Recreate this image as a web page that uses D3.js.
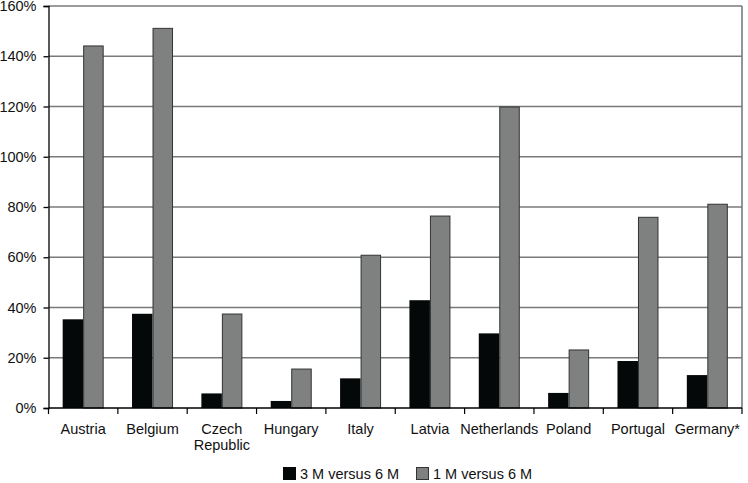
<!DOCTYPE html>
<html>
<head>
<meta charset="utf-8">
<script src="https://cdn.jsdelivr.net/npm/d3@7"></script>
<style>
  body { margin: 0; background: #fff; }
  text { font-family: "Liberation Sans", Arial, sans-serif; fill: #111; }
</style>
</head>
<body>
<svg id="chart" width="748" height="483"></svg>
<script>
'use strict';

const countries = ['Austria', 'Belgium', 'Czech Republic', 'Hungary', 'Italy',
  'Latvia', 'Netherlands', 'Poland', 'Portugal', 'Germany*'];
const threeVsSix = [35.3, 37.5, 5.8, 2.8, 11.8, 42.9, 29.7, 6, 18.7, 13.1];
const oneVsSix = [144.1, 151.1, 37.4, 15.5, 60.8, 76.4, 119.8, 23.1, 75.9, 81.1];
const yTicks = [0, 20, 40, 60, 80, 100, 120, 140, 160];
const seriesNames = ['3 M versus 6 M', '1 M versus 6 M'];

const svg = d3.select('#chart');
const plotL = 48.5, plotR = 742, plotT = 6, plotB = 408;

const x = d3.scaleBand().domain(countries).range([plotL, plotR]);
const y = d3.scaleLinear().domain([0, 160]).range([plotB, plotT]);
const barW = 20.5;

// gridlines
svg.append('g')
  .selectAll('line')
  .data(yTicks.filter(d => d > 0))
  .enter()
  .append('line')
  .attr('x1', plotL).attr('x2', plotR)
  .attr('y1', d => y(d)).attr('y2', d => y(d))
  .attr('stroke', '#7a7a7a')
  .attr('stroke-width', 1.6);

// right border
svg.append('line')
  .attr('x1', plotR).attr('x2', plotR)
  .attr('y1', plotT).attr('y2', plotB)
  .attr('stroke', '#7a7a7a').attr('stroke-width', 1.6);

// bars
const groups = svg.append('g')
  .selectAll('g')
  .data(countries)
  .enter()
  .append('g')
  .attr('transform', d => `translate(${x(d) + x.bandwidth() / 2},0)`);

groups.append('rect')
  .attr('x', -barW)
  .attr('y', (d, i) => y(threeVsSix[i]))
  .attr('width', barW)
  .attr('height', (d, i) => plotB - y(threeVsSix[i]))
  .attr('fill', '#050808');

groups.append('rect')
  .attr('x', 0.5)
  .attr('y', (d, i) => y(oneVsSix[i]))
  .attr('width', barW - 1)
  .attr('height', (d, i) => plotB - y(oneVsSix[i]))
  .attr('fill', '#7f8080')
  .attr('stroke', '#333')
  .attr('stroke-width', 1);

// y axis
const yAxis = d3.axisLeft(y)
  .tickValues(yTicks)
  .tickSize(5)
  .tickPadding(7)
  .tickFormat(d => d + '%');
svg.append('g')
  .attr('transform', `translate(${plotL},0)`)
  .call(yAxis)
  .call(g => g.selectAll('text').attr('font-size', 14.5).attr('font-family', null))
  .call(g => g.selectAll('line, path').attr('stroke', '#000').attr('stroke-width', 1.3));

// x axis
svg.append('line')
  .attr('x1', plotL).attr('x2', plotR)
  .attr('y1', plotB).attr('y2', plotB)
  .attr('stroke', '#000').attr('stroke-width', 1.5);

svg.append('g')
  .selectAll('line')
  .data(d3.range(countries.length + 1))
  .enter()
  .append('line')
  .attr('x1', i => plotL + i * x.step())
  .attr('x2', i => plotL + i * x.step())
  .attr('y1', plotB).attr('y2', plotB + 6)
  .attr('stroke', '#000').attr('stroke-width', 1.2);

// category labels
const labels = svg.append('g')
  .selectAll('text')
  .data(countries)
  .enter()
  .append('text')
  .attr('text-anchor', 'middle')
  .attr('font-size', 14.5)
  .attr('x', d => x(d) + x.bandwidth() / 2)
  .attr('y', 434);

labels.each(function(d) {
  const words = d === 'Czech Republic' ? ['Czech', 'Republic'] : [d];
  const t = d3.select(this);
  words.forEach((w, i) => {
    t.append('tspan')
      .attr('x', x(d) + x.bandwidth() / 2)
      .attr('dy', i === 0 ? 0 : 16)
      .text(w);
  });
});

// legend
const legend = svg.append('g').attr('transform', 'translate(283,467)');
const legendX = [0, 133];
const legendFill = ['#050808', '#7f8080'];
seriesNames.forEach((name, i) => {
  legend.append('rect')
    .attr('x', legendX[i] + 0.5).attr('y', 0.5)
    .attr('width', 12).attr('height', 12)
    .attr('fill', legendFill[i])
    .attr('stroke', i === 0 ? '#050808' : '#333');
  legend.append('text')
    .attr('x', legendX[i] + 17)
    .attr('y', 12)
    .attr('font-size', 14.5)
    .text(name);
});
</script>
</body>
</html>
